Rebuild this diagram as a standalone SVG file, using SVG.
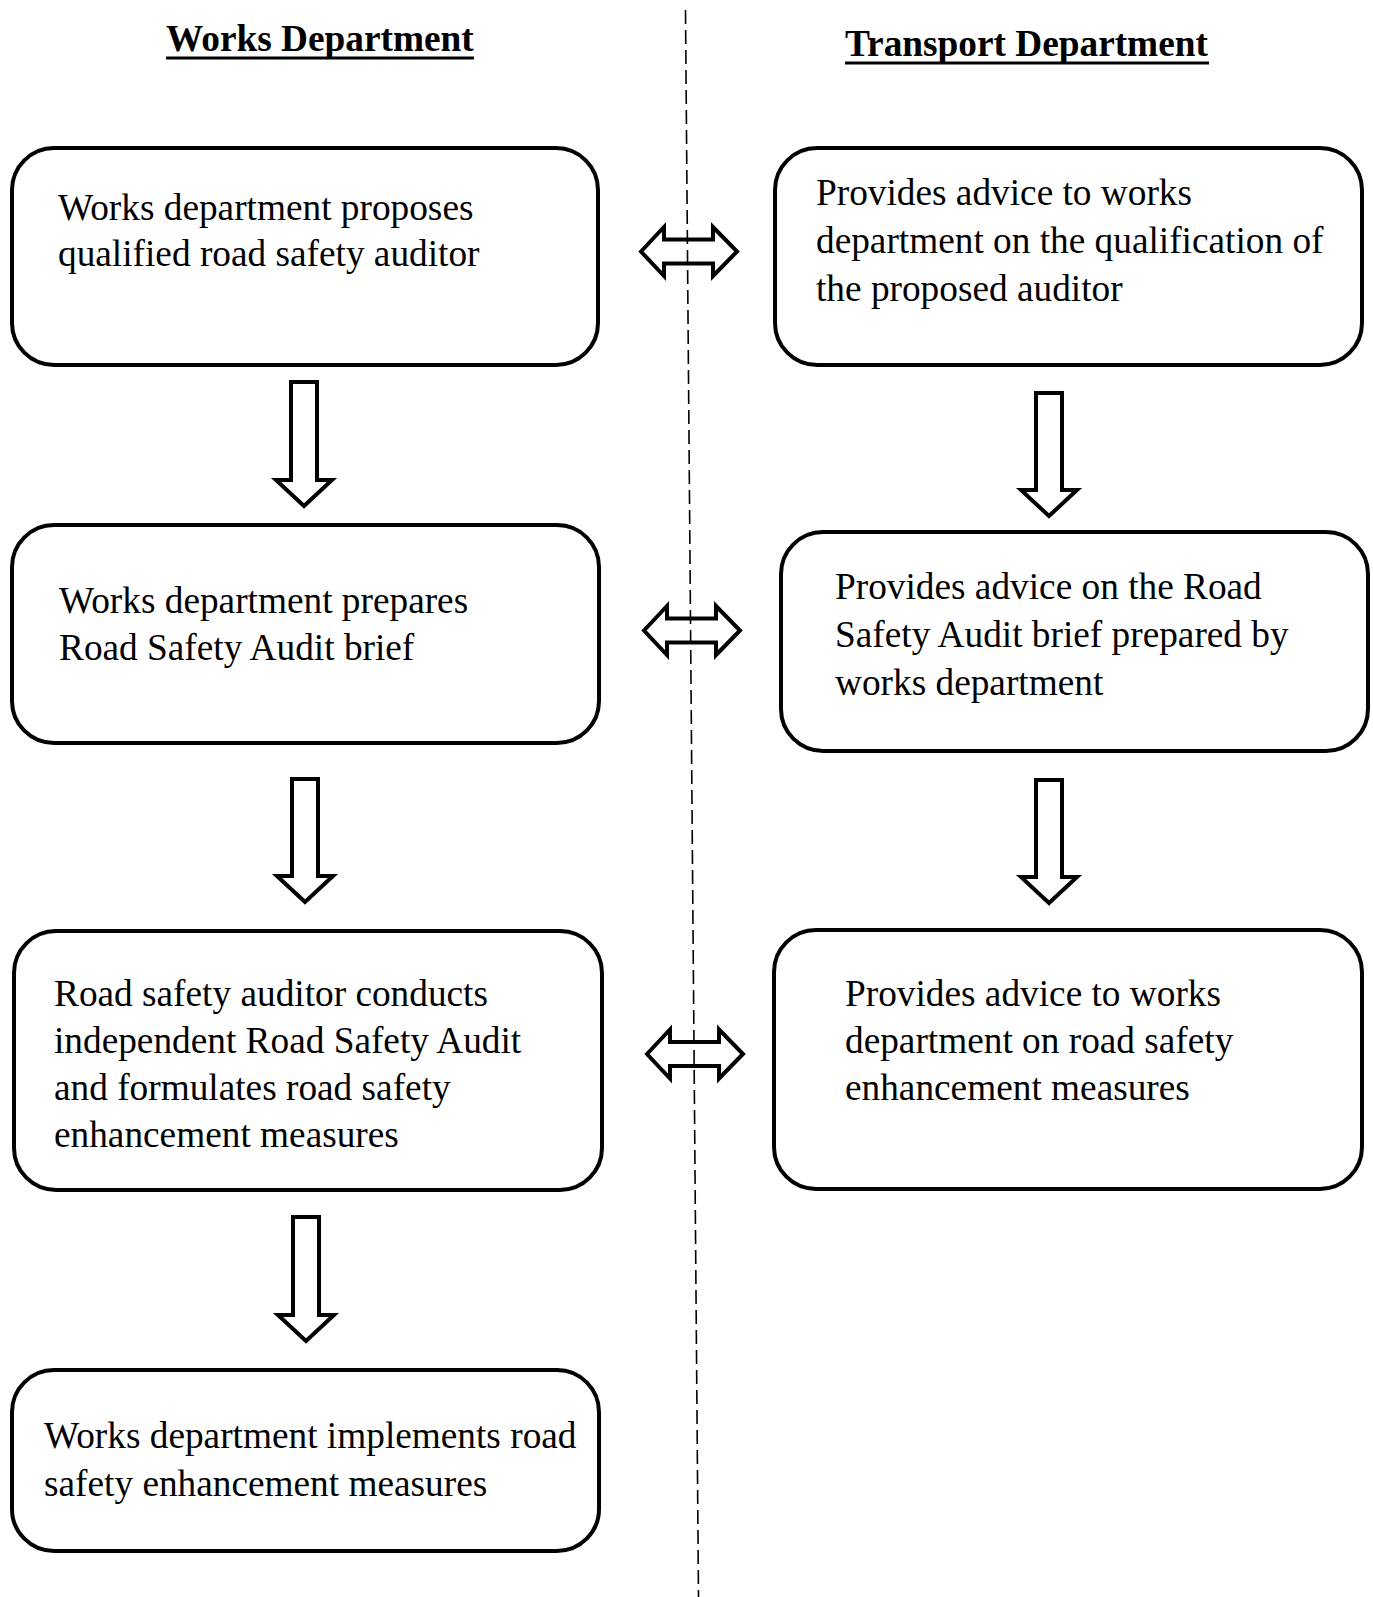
<svg xmlns="http://www.w3.org/2000/svg" width="1373" height="1597" viewBox="0 0 1373 1597">
<style>
.box{fill:#fff;stroke:#000;stroke-width:4}
.t{font-family:"Liberation Serif","Times New Roman",serif;font-size:37.3px;fill:#000}
.h{font-family:"Liberation Serif","Times New Roman",serif;font-size:37.3px;font-weight:bold;fill:#000}
.ul{stroke:#000;stroke-width:3}
.arr{fill:#fff;stroke:#000;stroke-width:4;stroke-linejoin:miter;stroke-miterlimit:10}
.dash{stroke:#000;stroke-width:1.6;stroke-dasharray:14 6;fill:none}
</style>
<rect width="1373" height="1597" fill="#fff"/>
<g id="headers">
<text class="h" x="166" y="51">Works Department</text>
<line class="ul" x1="166" y1="58" x2="474" y2="58"/>
<text class="h" x="845" y="56">Transport Department</text>
<line class="ul" x1="845" y1="63" x2="1209" y2="63"/>
</g>
<g id="node-w1">
<rect class="box" x="12" y="148" width="586" height="217" rx="42"/>
<text class="t" x="58" y="220">Works department proposes</text>
<text class="t" x="58" y="266">qualified road safety auditor</text>
</g>
<g id="node-t1">
<rect class="box" x="775" y="148" width="587" height="217" rx="42"/>
<text class="t" x="816" y="205">Provides advice to works</text>
<text class="t" x="816" y="253">department on the qualification of</text>
<text class="t" x="816" y="301">the proposed auditor</text>
</g>
<g id="node-w2">
<rect class="box" x="12" y="525" width="587" height="218" rx="42"/>
<text class="t" x="59" y="613">Works department prepares</text>
<text class="t" x="59" y="660">Road Safety Audit brief</text>
</g>
<g id="node-t2">
<rect class="box" x="781" y="532" width="587" height="219" rx="42"/>
<text class="t" x="835" y="599">Provides advice on the Road</text>
<text class="t" x="835" y="647">Safety Audit brief prepared by</text>
<text class="t" x="835" y="695">works department</text>
</g>
<g id="node-w3">
<rect class="box" x="14" y="931" width="588" height="259" rx="42"/>
<text class="t" x="54" y="1006">Road safety auditor conducts</text>
<text class="t" x="54" y="1053">independent Road Safety Audit</text>
<text class="t" x="54" y="1100">and formulates road safety</text>
<text class="t" x="54" y="1147">enhancement measures</text>
</g>
<g id="node-t3">
<rect class="box" x="774" y="930" width="588" height="259" rx="42"/>
<text class="t" x="845" y="1006">Provides advice to works</text>
<text class="t" x="845" y="1053">department on road safety</text>
<text class="t" x="845" y="1100">enhancement measures</text>
</g>
<g id="node-w4">
<rect class="box" x="12" y="1370" width="587" height="181" rx="42"/>
<text class="t" x="44" y="1448">Works department implements road</text>
<text class="t" x="44" y="1496">safety enhancement measures</text>
</g>
<g id="connectors">
<polygon class="arr" points="291,382 317,382 317,480 332,480 304,506 276,480 291,480"/>
<polygon class="arr" points="292,779 318,779 318,876 333,876 305,902 277,876 292,876"/>
<polygon class="arr" points="293,1217 319,1217 319,1315 334,1315 306,1341 278,1315 293,1315"/>
<polygon class="arr" points="1036,393 1062,393 1062,490 1077,490 1049,516 1021,490 1036,490"/>
<polygon class="arr" points="1036,780 1062,780 1062,877 1077,877 1049,903 1021,877 1036,877"/>
<polygon class="arr" points="641,251.5 664,227 664,239.5 713,239.5 713,227 737,251.5 713,276 713,263.5 664,263.5 664,276"/>
<polygon class="arr" points="644,630.5 667,606 667,618.5 716,618.5 716,606 740,630.5 716,655 716,642.5 667,642.5 667,655"/>
<polygon class="arr" points="647,1054 670,1029.5 670,1042 719,1042 719,1029.5 743,1054 719,1078.5 719,1066 670,1066 670,1078.5"/>
<line class="dash" x1="685.5" y1="10" x2="698.5" y2="1597"/>
</g>
</svg>
